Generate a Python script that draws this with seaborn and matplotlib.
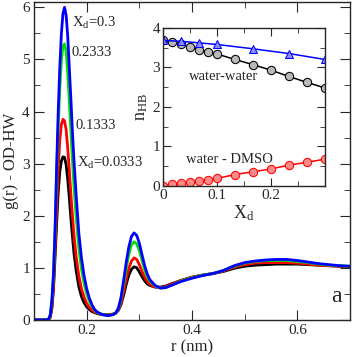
import numpy as np
import pandas as pd
import matplotlib
matplotlib.use("Agg")
import matplotlib.pyplot as plt
import seaborn as sns
from matplotlib.ticker import MultipleLocator, FixedLocator

# g(r) OD-HW
r_nm = [0.100, 0.120, 0.125, 0.128, 0.131, 0.134, 0.137, 0.140, 0.143, 0.146,
        0.149, 0.152, 0.155, 0.158, 0.161, 0.164, 0.167, 0.170, 0.173, 0.176,
        0.180, 0.185, 0.190, 0.195, 0.200, 0.205, 0.210, 0.215, 0.220, 0.230,
        0.240, 0.250, 0.255, 0.260, 0.265, 0.270, 0.275, 0.280, 0.285, 0.290,
        0.295, 0.300, 0.305, 0.310, 0.315, 0.320, 0.330, 0.340, 0.350, 0.360,
        0.380, 0.400, 0.420, 0.440, 0.460, 0.480, 0.500, 0.520, 0.540, 0.560,
        0.580, 0.600, 0.620, 0.640, 0.660, 0.680, 0.700]
g_0333 = [0, 0, 0, 0.01, 0.05, 0.22, 0.58, 1.2, 1.85, 2.45,
          2.85, 3.05, 3.13, 3.12, 2.98, 2.7, 2.35, 1.95, 1.6, 1.27,
          0.95, 0.64, 0.45, 0.33, 0.25, 0.2, 0.16, 0.14, 0.12, 0.1,
          0.1, 0.11, 0.13, 0.18, 0.29, 0.47, 0.68, 0.86, 0.97, 1.02,
          1.0, 0.92, 0.83, 0.75, 0.69, 0.66, 0.63, 0.63, 0.65, 0.69,
          0.76, 0.82, 0.86, 0.89, 0.93, 0.99, 1.03, 1.05, 1.06, 1.07,
          1.07, 1.07, 1.06, 1.05, 1.04, 1.03, 1.02]
g_1333 = [0, 0, 0, 0.01, 0.06, 0.25, 0.65, 1.35, 2.15, 2.9,
          3.45, 3.75, 3.85, 3.82, 3.65, 3.3, 2.88, 2.42, 2.0, 1.62,
          1.22, 0.85, 0.6, 0.44, 0.32, 0.24, 0.19, 0.15, 0.13, 0.1,
          0.1, 0.11, 0.13, 0.19, 0.32, 0.54, 0.78, 0.99, 1.13, 1.19,
          1.16, 1.06, 0.93, 0.82, 0.74, 0.68, 0.63, 0.62, 0.64, 0.68,
          0.76, 0.82, 0.86, 0.89, 0.94, 1.01, 1.06, 1.09, 1.1, 1.1,
          1.1, 1.09, 1.07, 1.05, 1.04, 1.03, 1.02]
g_2333 = [0, 0, 0, 0.02, 0.1, 0.37, 0.86, 1.7, 2.8, 3.7,
          4.45, 4.98, 5.25, 5.3, 5.15, 4.75, 4.2, 3.62, 3.05, 2.55,
          1.98, 1.38, 0.98, 0.7, 0.5, 0.36, 0.26, 0.19, 0.14, 0.1,
          0.09, 0.1, 0.13, 0.21, 0.39, 0.68, 0.98, 1.26, 1.44, 1.5,
          1.46, 1.33, 1.14, 0.96, 0.83, 0.74, 0.65, 0.61, 0.62, 0.66,
          0.75, 0.81, 0.86, 0.89, 0.95, 1.03, 1.09, 1.12, 1.14, 1.14,
          1.14, 1.12, 1.1, 1.07, 1.05, 1.04, 1.03]
g_3 = [0, 0, 0, 0.02, 0.1, 0.38, 0.88, 1.75, 2.95, 4.0,
       4.85, 5.5, 5.88, 6.0, 5.85, 5.45, 4.85, 4.25, 3.6, 3.05,
       2.4, 1.68, 1.2, 0.85, 0.6, 0.42, 0.29, 0.2, 0.15, 0.1,
       0.08, 0.1, 0.13, 0.22, 0.42, 0.75, 1.1, 1.4, 1.6, 1.67,
       1.62, 1.47, 1.25, 1.04, 0.88, 0.77, 0.66, 0.61, 0.62, 0.66,
       0.74, 0.8, 0.85, 0.89, 0.95, 1.04, 1.1, 1.13, 1.15, 1.16,
       1.16, 1.14, 1.11, 1.08, 1.06, 1.04, 1.03]

# inset: number of H-bonds vs X_d
xd = [0, 0.0167, 0.0333, 0.05, 0.0667, 0.0833, 0.1, 0.1333, 0.1667,
      0.2, 0.2333, 0.2667, 0.3]
nhb_ww = [3.68, 3.64, 3.58, 3.52, 3.45, 3.39, 3.34, 3.2, 3.07,
          2.93, 2.77, 2.62, 2.48]
nhb_wd = [0.0, 0.04, 0.07, 0.09, 0.13, 0.15, 0.19, 0.29, 0.36,
          0.43, 0.53, 0.6, 0.68]
xd_tri = [0, 0.0333, 0.0667, 0.1, 0.1667, 0.2333, 0.3]
nhb_tri = [3.68, 3.66, 3.62, 3.58, 3.47, 3.35, 3.2]

sns.set_style("ticks")
plt.rcParams['font.family'] = ['Liberation Serif', 'DejaVu Serif']
plt.rcParams['mathtext.fontset'] = 'custom'
plt.rcParams['mathtext.rm'] = 'Liberation Serif'
plt.rcParams['mathtext.it'] = 'Liberation Serif:italic'

fig = plt.figure(figsize=(3.54, 3.57), dpi=100)
ax = fig.add_axes([0.096, 0.104, 0.893, 0.890])

curves = [(g_0333, 'black'), (g_1333, 'red'), (g_2333, '#00e000'), (g_3, 'blue')]
for g, c in curves:
    sns.lineplot(x=r_nm, y=g, color=c, lw=2.0, ax=ax, sort=False)

ax.set_xlim(0.1, 0.7)
ax.set_ylim(0, 6.1)
ax.xaxis.set_major_locator(FixedLocator([0.2, 0.4, 0.6]))
ax.xaxis.set_minor_locator(MultipleLocator(0.1))
ax.yaxis.set_major_locator(MultipleLocator(1))
ax.yaxis.set_minor_locator(MultipleLocator(0.5))
ax.tick_params(which='both', direction='in', top=True, right=True, labelsize=11, pad=3)
ax.tick_params(which='major', length=7)
ax.tick_params(which='minor', length=4)
ax.set_xlabel('r (nm)', fontsize=12, labelpad=2)
ax.set_ylabel('g(r) - OD-HW', fontsize=12, labelpad=2)
for s in ax.spines.values():
    s.set_linewidth(1.0)

ax.text(0.1717, 5.7, r'X$_\mathrm{d}$=0.3', fontsize=10.5, va='center')
ax.text(0.1717, 5.13, '0.2333', fontsize=10.5, va='center')
ax.text(0.179, 3.73, '0.1333', fontsize=10.5, va='center')
ax.text(0.181, 3.02, r'X$_\mathrm{d}$=0.0333', fontsize=10.5, va='center')
ax.text(0.673, 0.45, 'a', fontsize=17, ha='center', va='center')

# inset
ins = fig.add_axes([0.460, 0.479, 0.458, 0.443])
sns.lineplot(x=xd, y=nhb_ww, color='black', lw=1.1, marker='o', ms=6,
             markerfacecolor='#b8b8b8', markeredgecolor='black', ax=ins)
sns.lineplot(x=xd, y=nhb_wd, color='red', lw=1.1, marker='o', ms=6,
             markerfacecolor='#ff8a8a', markeredgecolor='red', ax=ins)
sns.lineplot(x=xd_tri, y=nhb_tri, color='blue', lw=1.1, marker='^', ms=6,
             markerfacecolor='#8c8cff', markeredgecolor='blue', ax=ins)
ins.set_xlim(0, 0.3)
ins.set_ylim(0, 4)
ins.xaxis.set_major_locator(FixedLocator([0, 0.1, 0.2]))
ins.set_xticklabels(['0', '0.1', '0.2'])
ins.xaxis.set_minor_locator(MultipleLocator(0.05))
ins.yaxis.set_major_locator(MultipleLocator(1))
ins.yaxis.set_minor_locator(MultipleLocator(0.5))
ins.tick_params(which='both', direction='in', top=True, right=True, labelsize=11, pad=2)
ins.tick_params(which='major', length=6)
ins.tick_params(which='minor', length=3.5)
ins.set_xlabel(r'X$_\mathrm{d}$', fontsize=13, labelpad=1)
ins.set_ylabel(r'n$_\mathrm{HB}$', fontsize=13, labelpad=2)
for s in ins.spines.values():
    s.set_linewidth(1.0)
ins.text(0.049, 2.76, 'water-water', fontsize=10.5, va='center')
ins.text(0.043, 0.66, 'water - DMSO', fontsize=10.5, va='center')

fig.savefig('out.png', dpi=100)
